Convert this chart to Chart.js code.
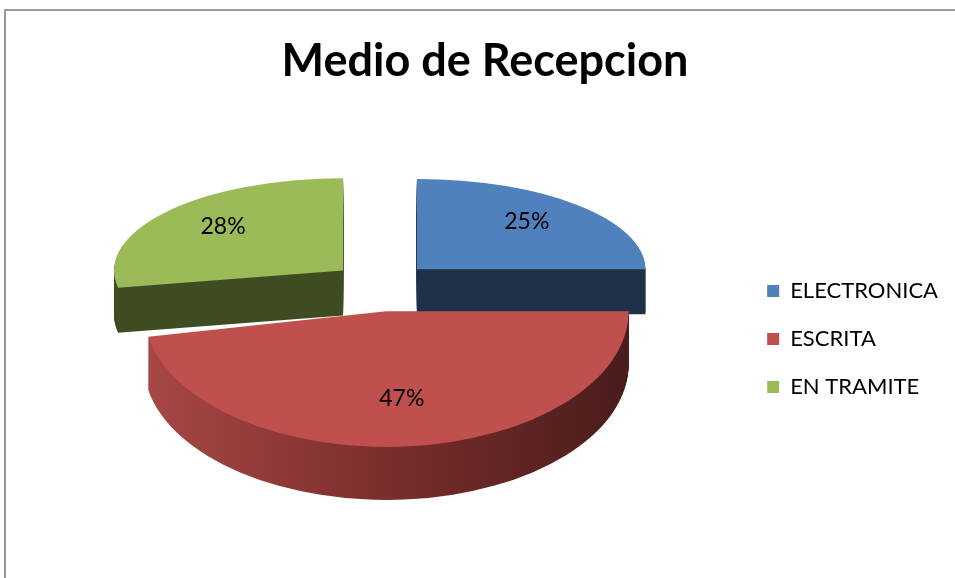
<!DOCTYPE html>
<html>
<head>
<meta charset="utf-8">
<script src="https://cdn.jsdelivr.net/npm/chart.js@4"></script>
<style>
  html, body { margin: 0; padding: 0; background: #fff; }
  #wrap { position: relative; width: 955px; height: 578px; }
</style>
</head>
<body>
<div id="wrap"><canvas id="c" width="955" height="578"></canvas></div>
<script>
// ---- data ----
const categories = ['ELECTRONICA', 'ESCRITA', 'EN TRAMITE'];
const values = [25, 47, 28];
const chartTitle = 'Medio de Recepcion';

// ---- styles ----
const topColors = ['#4F81BD', '#C0504D', '#9BBB59'];
const sideStops = [
  [[0, '#1F3049'], [1, '#1F3049']],
  [[0, '#A84845'], [0.5, '#7A2E2D'], [1, '#4A1C1C']],
  [[0, '#3F4C22'], [1, '#3F4C22']]
];
const FONT = 'Lato, "Open Sans", sans-serif';

const pie3d = {
  id: 'pie3d',
  beforeDraw(chart) {
    const ctx = chart.ctx;
    ctx.save();
    ctx.strokeStyle = '#9a9a9a';
    ctx.lineWidth = 2;
    ctx.beginPath();
    ctx.moveTo(5, chart.height + 5);
    ctx.lineTo(5, 10);
    ctx.lineTo(chart.width + 5, 10);
    ctx.stroke();
    ctx.restore();
  },
  beforeDatasetDraw(chart, args, opts) {
    const ctx = chart.ctx;
    const arcs = args.meta.data;
    const total = values.reduce((a, b) => a + b, 0);
    const items = arcs.map((arc, i) => {
      const h = (arc.startAngle + arc.endAngle) / 2;
      const sn = Math.sin(h);
      return {
        arc, i, h,
        k: opts.tilt * (1 + opts.persp * sn),
        s: 1 + opts.sizePersp * sn,
        d: opts.depth * (1 + opts.depthPersp * sn)
      };
    });
    // vertical extents to centre the projected pie
    let minY = Infinity, maxY = -Infinity;
    items.forEach(it => {
      const R = it.arc.outerRadius;
      const oy = it.k * opts.explode * Math.sin(it.h);
      const samples = [0];
      for (let t = it.arc.startAngle; t <= it.arc.endAngle; t += 0.01) samples.push(Math.sin(t));
      samples.push(Math.sin(it.arc.endAngle));
      samples.forEach(v => {
        const y = oy + v * R * it.s * it.k;
        minY = Math.min(minY, y);
        maxY = Math.max(maxY, y + it.d);
      });
    });
    const pivotX = arcs[0].x;
    const pivotY = arcs[0].y - (minY + maxY) / 2;

    function drawSlice(it, dy, fill) {
      const arc = it.arc;
      ctx.save();
      ctx.translate(pivotX + opts.explode * Math.cos(it.h),
                    pivotY + it.k * opts.explode * Math.sin(it.h) + dy);
      ctx.scale(it.s, it.s * it.k);
      ctx.translate(-arc.x, -arc.y);
      const saved = arc.options;
      arc.options = Object.assign({}, saved, { backgroundColor: fill, borderWidth: 0, offset: 0 });
      arc.draw(ctx);
      arc.options = saved;
      ctx.restore();
    }

    const order = items.slice().sort((a, b) => Math.sin(a.h) - Math.sin(b.h));
    order.forEach(it => {
      const R = it.arc.outerRadius;
      const g = ctx.createLinearGradient(it.arc.x - R, 0, it.arc.x + R, 0);
      sideStops[it.i].forEach(([p, c]) => g.addColorStop(p, c));
      for (let dy = Math.round(it.d); dy >= 1; dy -= 1) drawSlice(it, dy, g);
      drawSlice(it, 0, topColors[it.i]);
    });

    // percentage labels
    ctx.save();
    ctx.fillStyle = '#000';
    ctx.font = '23px ' + FONT;
    ctx.textAlign = 'center';
    ctx.textBaseline = 'middle';
    items.forEach(it => {
      const R = it.arc.outerRadius;
      const lr = opts.labelRadius * R;
      const x = pivotX + opts.explode * Math.cos(it.h) + it.s * lr * Math.cos(it.h);
      const y = pivotY + it.k * opts.explode * Math.sin(it.h) + it.s * it.k * lr * Math.sin(it.h) + opts.labelLift;
      ctx.fillText(Math.round(values[it.i] / total * 100) + '%', x, y);
    });
    ctx.restore();
    return false;
  }
};

new Chart(document.getElementById('c'), {
  type: 'pie',
  data: {
    labels: categories,
    datasets: [{
      data: values,
      backgroundColor: topColors,
      borderWidth: 0,
      radius: '98%'
    }]
  },
  options: {
    responsive: false,
    animation: false,
    layout: { padding: { left: 22, right: 7, top: 0, bottom: 0 } },
    plugins: {
      title: {
        display: true,
        text: chartTitle,
        color: '#000',
        font: { family: FONT, size: 45, weight: 'bold', lineHeight: 1.2 },
        padding: { top: 34, bottom: 12 }
      },
      legend: {
        position: 'right',
        fullSize: false,
        labels: {
          color: '#000',
          boxWidth: 12,
          boxHeight: 12,
          padding: 26,
          font: { family: FONT, size: 22 }
        }
      },
      tooltip: { enabled: false },
      pie3d: {
        tilt: 0.464, persp: 0.2075, sizePersp: 0.035,
        depth: 48, depthPersp: 0.1,
        explode: 50, labelRadius: 0.68, labelLift: -4
      }
    }
  },
  plugins: [pie3d]
});
</script>
</body>
</html>
